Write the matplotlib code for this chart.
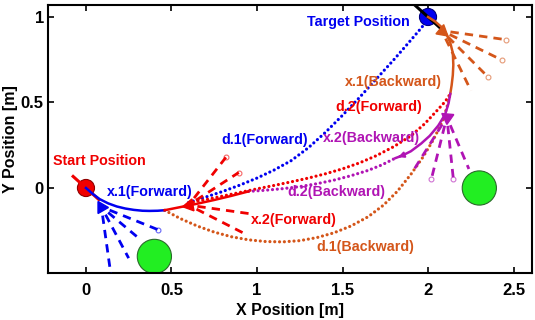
import numpy as np
import matplotlib
matplotlib.use("Agg")
import matplotlib.pyplot as plt

plt.rcParams['font.family'] = ['Liberation Sans', 'DejaVu Sans']
plt.rcParams['font.weight'] = 'bold'

# ---------------- data ----------------
BLUE = '#0000f0'
RED = '#f00000'
ORANGE = '#d4561a'
MAGENTA = '#b014b4'
GREEN = '#22ee22'

start_pose = (0.0, 0.0, -42.0)
target_pose = (2.0, 1.0, -42.0)
heading_half_len = 0.11

obstacles_x = [0.40, 2.30]
obstacles_y = [-0.40, 0.00]
obstacle_r = 0.10

# executed segments (solid)
x1f_x = [0.00, 0.04, 0.08, 0.13, 0.18, 0.23, 0.28, 0.33, 0.37, 0.42, 0.46]
x1f_y = [0.00, -0.035, -0.065, -0.090, -0.108, -0.120, -0.128, -0.133, -0.134, -0.133, -0.130]

x2f_x = [0.46, 0.55, 0.65, 0.75, 0.85, 0.95]
x2f_y = [-0.130, -0.112, -0.092, -0.070, -0.046, -0.020]

x1b_x = [2.00, 2.04, 2.08, 2.11, 2.13, 2.145, 2.148, 2.145, 2.138, 2.13]
x1b_y = [1.00, 0.975, 0.940, 0.895, 0.850, 0.790, 0.720, 0.660, 0.600, 0.550]

x2b_x = [2.13, 2.12, 2.10, 2.06, 2.01, 1.96, 1.90, 1.85, 1.81]
x2b_y = [0.550, 0.495, 0.430, 0.365, 0.305, 0.260, 0.215, 0.190, 0.175]

# planned paths (dotted)
d1f_x = [0.60, 0.70, 0.80, 0.90, 1.00, 1.10, 1.20, 1.30, 1.40, 1.50, 1.60, 1.70, 1.80, 1.90, 1.96, 2.00]
d1f_y = [-0.085, -0.053, -0.020, 0.017, 0.058, 0.105, 0.160, 0.235, 0.325, 0.425, 0.530, 0.640, 0.750, 0.865, 0.935, 0.985]

d2f_x = [0.60, 0.70, 0.80, 0.90, 1.00, 1.10, 1.20, 1.30, 1.40, 1.50, 1.60, 1.70, 1.80, 1.90, 1.98, 2.05, 2.10, 2.13]
d2f_y = [-0.088, -0.068, -0.047, -0.026, -0.005, 0.015, 0.036, 0.058, 0.083, 0.112, 0.147, 0.190, 0.242, 0.305, 0.375, 0.450, 0.505, 0.550]

d1b_x = [0.46, 0.55, 0.65, 0.75, 0.85, 0.95, 1.05, 1.15, 1.25, 1.35, 1.45, 1.55, 1.65, 1.74, 1.82, 1.90, 1.97, 2.03, 2.08, 2.11, 2.13]
d1b_y = [-0.130, -0.178, -0.222, -0.258, -0.285, -0.303, -0.313, -0.315, -0.308, -0.290, -0.262, -0.222, -0.168, -0.100, -0.020, 0.080, 0.180, 0.280, 0.380, 0.470, 0.550]

d2b_x = [0.95, 1.05, 1.15, 1.25, 1.35, 1.45, 1.55, 1.65, 1.73, 1.81]
d2b_y = [-0.020, -0.013, -0.004, 0.008, 0.025, 0.046, 0.072, 0.103, 0.135, 0.175]

# robot poses (x, y, marker heading deg) and lidar rays (angle deg, length, free?)
robots = {
    'blue':    dict(x=0.09, y=-0.11, hd=120, color=BLUE,
                    ang=[-82, -62, -40, -22], ln=[0.40, 0.34, 0.30, 0.36], free=[0, 0, 0, 1]),
    'red':     dict(x=0.60, y=-0.10, hd=190, color=RED,
                    ang=[52, 33, -8, -27], ln=[0.36, 0.35, 0.36, 0.36], free=[1, 1, 0, 0]),
    'orange':  dict(x=2.08, y=0.92, hd=-40, color=ORANGE,
                    ang=[-8, -26, -45, -64], ln=[0.38, 0.39, 0.38, 0.39], free=[1, 1, 1, 0]),
    'magenta': dict(x=2.11, y=0.415, hd=-95, color=MAGENTA,
                    ang=[-122, -104, -84, -67], ln=[0.36, 0.376, 0.367, 0.33], free=[0, 1, 1, 0]),
}

labels = [
    ('Start Position', 0.08, 0.158, RED),
    ('Target Position', 1.59, 0.97, BLUE),
    ('x.1(Forward)', 0.374, -0.023, BLUE),
    ('d.1(Forward)', 1.047, 0.28, BLUE),
    ('x.1(Backward)', 1.795, 0.62, ORANGE),
    ('d.2(Forward)', 1.71, 0.474, RED),
    ('x.2(Backward)', 1.667, 0.292, MAGENTA),
    ('d.2(Backward)', 1.465, -0.023, MAGENTA),
    ('x.2(Forward)', 1.213, -0.187, RED),
    ('d.1(Backward)', 1.634, -0.345, ORANGE),
]

xticks = [0, 0.5, 1, 1.5, 2, 2.5]
xtick_labels = ['0', '0.5', '1', '1.5', '2', '2.5']
yticks = [0, 0.5, 1]
ytick_labels = ['0', '0.5', '1']

# ---------------- plot ----------------
fig = plt.figure(figsize=(5.35, 3.2), dpi=100)
ax = fig.add_axes([48/535, 47/320, 484/535, 268/320])
ax.set_xlim(-0.222, 2.608)
ax.set_ylim(-0.497, 1.070)

# obstacles
for ox, oy in zip(obstacles_x, obstacles_y):
    ax.add_patch(plt.Circle((ox, oy), obstacle_r, facecolor=GREEN, edgecolor='#2a6a2a', lw=0.8, zorder=2))

# start / target
sx, sy, sh = start_pose
tx, ty, th = target_pose
ax.add_patch(plt.Circle((sx, sy), 0.05, facecolor=RED, edgecolor='#900000', lw=0.8, zorder=3))
ax.add_patch(plt.Circle((tx, ty), 0.05, facecolor=BLUE, edgecolor='#000080', lw=0.8, zorder=3))
for (px, py, ph), c in [(start_pose, RED), (target_pose, 'black')]:
    dx = heading_half_len * np.cos(np.radians(ph))
    dy = heading_half_len * np.sin(np.radians(ph))
    ax.plot([px - dx, px + dx], [py - dy, py + dy], color=c, lw=2.2, zorder=4, solid_capstyle='butt')

# dotted planned paths
dot = dict(lw=2.3, linestyle=(0, (0.01, 1.5)), dash_capstyle='round', zorder=3)
ax.plot(d1f_x, d1f_y, color=BLUE, **dot)
ax.plot(d2f_x, d2f_y, color=RED, **dot)
ax.plot(d1b_x, d1b_y, color=ORANGE, **dot)
ax.plot(d2b_x, d2b_y, color=MAGENTA, **dot)

# solid executed paths
ax.plot(x1f_x, x1f_y, color=BLUE, lw=1.8, zorder=5)
ax.plot(x2f_x, x2f_y, color=RED, lw=1.8, zorder=5)
ax.plot(x1b_x, x1b_y, color=ORANGE, lw=1.8, zorder=5)
ax.plot(x2b_x, x2b_y, color=MAGENTA, lw=1.8, zorder=5)
# arrowhead at end of x.2(Backward)
ax.annotate('', xy=(x2b_x[-1], x2b_y[-1]), xytext=(x2b_x[-2], x2b_y[-2]),
            arrowprops=dict(arrowstyle='-|>', color=MAGENTA, lw=1.5, mutation_scale=8), zorder=5)

# robots with rays
for r in robots.values():
    c = r['color']
    for a, L, f in zip(r['ang'], r['ln'], r['free']):
        ex = r['x'] + L * np.cos(np.radians(a))
        ey = r['y'] + L * np.sin(np.radians(a))
        ax.plot([r['x'], ex], [r['y'], ey], color=c, lw=2.0, linestyle=(2, (3.0, 2.2)), zorder=4)
        if f:
            ax.plot([ex], [ey], marker='o', ms=3.5, mfc='none', mec=c, mew=0.8, alpha=0.6, zorder=4)
    ax.plot([r['x']], [r['y']], marker=(3, 0, r['hd'] - 90), ms=10, color=c, zorder=6)

# labels
for txt, lx, ly, c in labels:
    ax.text(lx, ly, txt, color=c, fontsize=10.3, fontweight='bold', ha='center', va='center', zorder=7)

ax.set_xticks(xticks)
ax.set_xticklabels(xtick_labels)
ax.set_yticks(yticks)
ax.set_yticklabels(ytick_labels)
ax.tick_params(direction='in', length=4, width=1.2, top=True, right=True, labelsize=12)
ax.tick_params(axis='x', pad=7)
ax.tick_params(axis='y', pad=3)
for lab in ax.get_xticklabels() + ax.get_yticklabels():
    lab.set_fontweight('bold')
for s in ax.spines.values():
    s.set_linewidth(1.5)
ax.set_xlabel('X Position [m]', fontsize=11.5, fontweight='bold', labelpad=4)
ax.set_ylabel('Y Position [m]', fontsize=11.5, fontweight='bold', labelpad=2)

fig.savefig('out.png', dpi=100)
